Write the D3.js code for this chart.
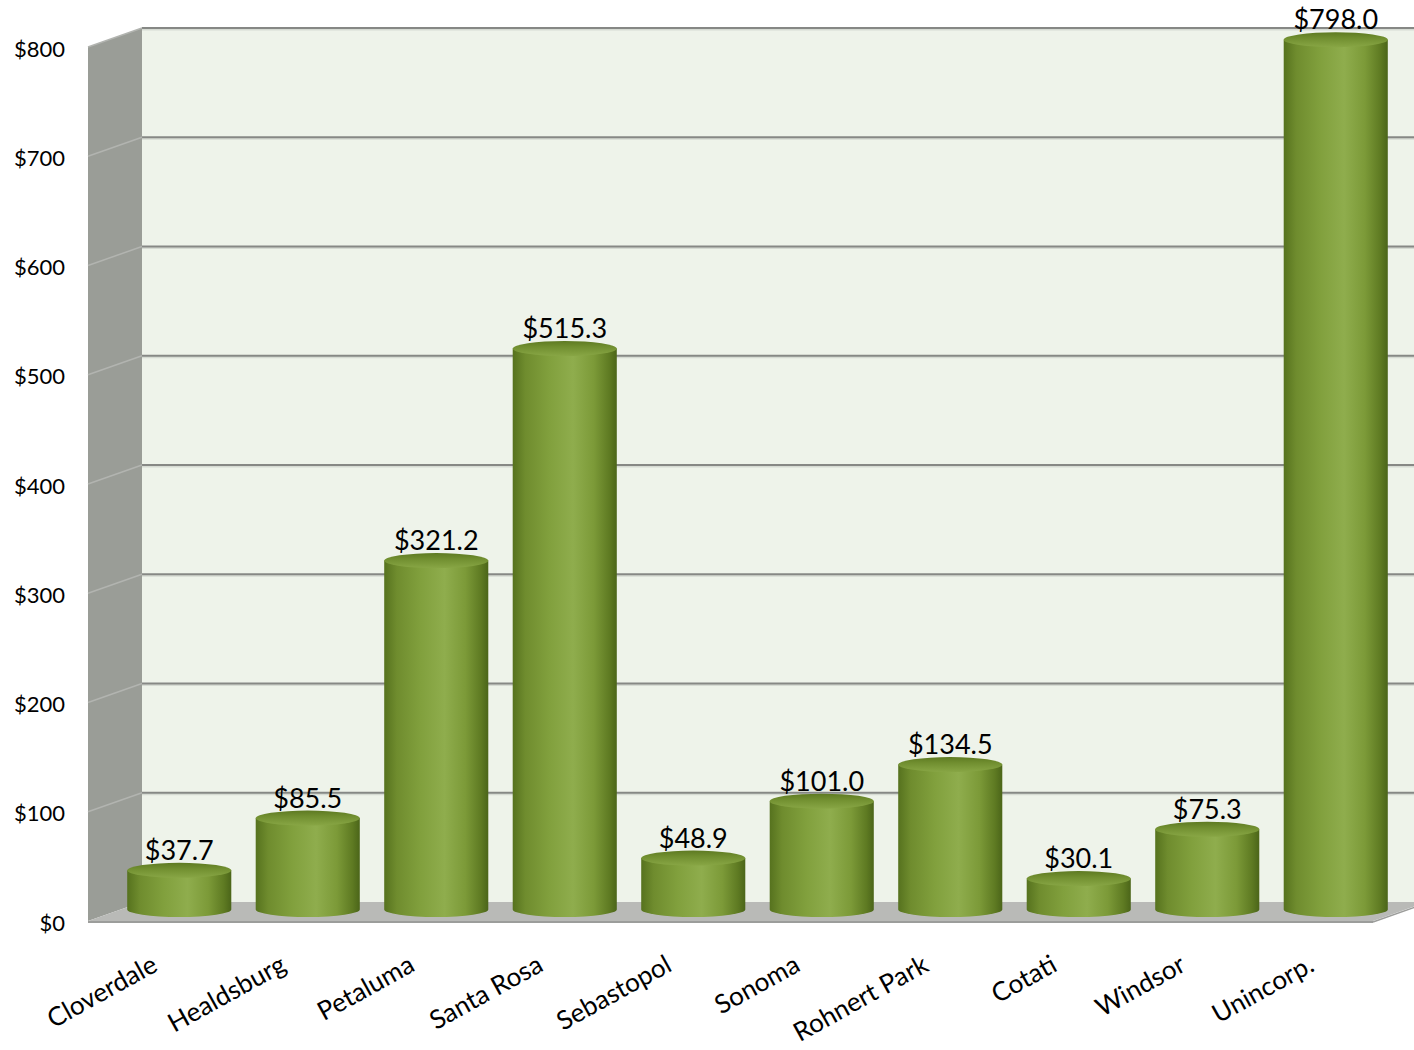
<!DOCTYPE html>
<html><head><meta charset="utf-8">
<script src="https://cdn.jsdelivr.net/npm/d3@7"></script>
<style>body{margin:0;background:#fff}svg{display:block}</style>
</head><body>
<svg id="c" width="1414" height="1050"></svg>
<script>
const categories = ["Cloverdale","Healdsburg","Petaluma","Santa Rosa","Sebastopol","Sonoma","Rohnert Park","Cotati","Windsor","Unincorp."];
const values = [37.7,85.5,321.2,515.3,48.9,101.0,134.5,30.1,75.3,798.0];
const yTicks = [0,100,200,300,400,500,600,700,800];

const svg = d3.select("#c");
const W = 1414, H = 1050;
const pL = 88, pR = 1373, pB = 921, pT = 47;
const DX = 54, DY = -19;

const x = d3.scaleBand().domain(categories).range([pL, pR]).paddingInner(0.19).paddingOuter(0.095);
const y = d3.scaleLinear().domain([0, 800]).range([pB, pT]);

const defs = svg.append("defs");
const bg = defs.append("linearGradient").attr("id","body").attr("x1","0").attr("x2","1").attr("y1","0").attr("y2","0");
[[0,"#56721e"],[0.12,"#6f8c2e"],[0.35,"#81a03d"],[0.58,"#8fad4d"],[0.78,"#7c9a38"],[0.93,"#5e7a22"],[1,"#4b6519"]]
 .forEach(([o,c])=>bg.append("stop").attr("offset",o).attr("stop-color",c));
const tg = defs.append("linearGradient").attr("id","topg").attr("x1","0").attr("x2","0").attr("y1","0").attr("y2","1");
[[0,"#5e7a22"],[0.4,"#718f30"],[1,"#88a645"]].forEach(([o,c])=>tg.append("stop").attr("offset",o).attr("stop-color",c));

// back wall
svg.append("rect").attr("x", pL+DX).attr("y", pT+DY).attr("width", W-(pL+DX)).attr("height", pB-pT)
  .attr("fill", "#eef3ea");
// side wall
svg.append("path").attr("d", `M${pL},${pT} L${pL+DX},${pT+DY} L${pL+DX},${pB+DY} L${pL},${pB} Z`)
  .attr("fill", "#9a9d97");

// gridlines
const g = svg.append("g");
yTicks.forEach(t=>{
  const yf = y(t), yb = y(t)+DY;
  if (t>0) {
    g.append("line").attr("x1", pL+DX).attr("x2", W).attr("y1", yb+1.5).attr("y2", yb+1.5)
      .attr("stroke","#d6dbd3").attr("stroke-width",2);
    g.append("line").attr("x1", pL+DX).attr("x2", W).attr("y1", yb).attr("y2", yb)
      .attr("stroke","#868885").attr("stroke-width",2);
    g.append("line").attr("x1", pL).attr("x2", pL+DX).attr("y1", yf).attr("y2", yb)
      .attr("stroke","#b2b4b0").attr("stroke-width",1.5);
  }
});

// floor
svg.append("path").attr("d", `M${pL},${pB} L${pR},${pB} L${pR+DX},${pB+DY} L${pL+DX},${pB+DY} Z`)
  .attr("fill","#b9bab7");
svg.append("line").attr("x1",pL).attr("x2",pR).attr("y1",pB+1).attr("y2",pB+1).attr("stroke","#9c9d9b").attr("stroke-width",2);
svg.append("line").attr("x1",pR).attr("x2",pR+DX).attr("y1",pB+1).attr("y2",pB+1+DY).attr("stroke","#9c9d9b").attr("stroke-width",1.5);

// cylinders at mid depth
const rx = x.bandwidth()/2, ry = 7.5;
const cyl = svg.append("g");
categories.forEach((c,i)=>{
  const cx = x(c) + rx + DX/2;
  const yb = y(0) + DY/2 - 2;
  const yt = y(values[i]) + DY/2;
  cyl.append("path")
    .attr("d", `M${cx-rx},${yt} L${cx-rx},${yb} A${rx},${ry} 0 0 0 ${cx+rx},${yb} L${cx+rx},${yt} Z`)
    .attr("fill","url(#body)");
  cyl.append("ellipse").attr("cx",cx).attr("cy",yt).attr("rx",rx).attr("ry",ry).attr("fill","url(#topg)");
  svg.append("text").attr("x",cx).attr("y",yt-ry-3).attr("text-anchor","middle")
    .attr("font-family","Lato, sans-serif").attr("font-size",27).attr("fill","#000")
    .text("$" + values[i].toFixed(1));
});

// y axis labels
const ya = svg.append("g").attr("transform",`translate(${pL-23},2)`)
  .call(d3.axisLeft(y).tickValues(yTicks).tickFormat(d=>"$"+d).tickSize(0).tickPadding(0));
ya.select(".domain").remove();
ya.selectAll("text").attr("font-family","Lato, sans-serif").attr("font-size",22).attr("fill","#000");

// x labels
const xa = svg.append("g").attr("transform",`translate(0,${pB})`)
  .call(d3.axisBottom(x).tickSize(0).tickPadding(0));
xa.select(".domain").remove();
xa.selectAll("text").attr("font-family","Lato, sans-serif").attr("font-size",26).attr("fill","#000")
  .attr("text-anchor","end").attr("dy",0)
  .attr("transform","translate(7,49) rotate(-29)");
</script>
</body></html>
